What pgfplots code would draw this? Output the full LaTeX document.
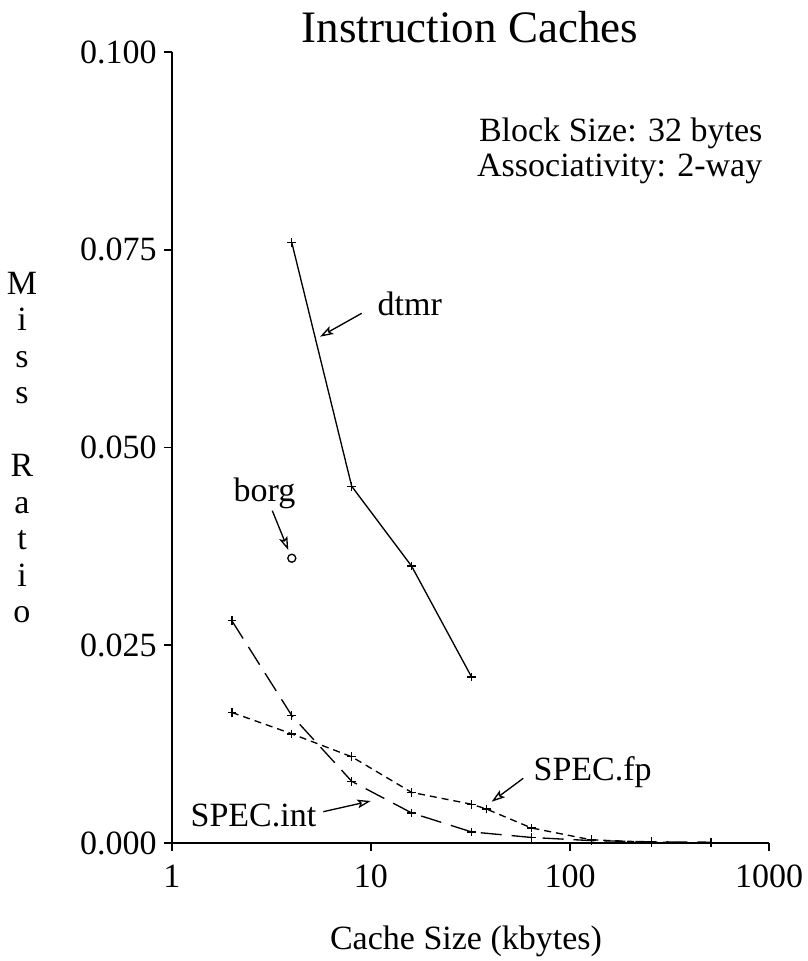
\documentclass[border=0pt]{standalone}
\usepackage{fontspec}
\setmainfont{Liberation Serif}
\usepackage{pgfplots}
\pgfplotsset{compat=1.18}
\usetikzlibrary{arrows.meta}

\pgfplotstableread{
x y
4 0.0759
8 0.0451
16 0.0350
32 0.0210
}\dtmr
\pgfplotstableread{
x y
4 0.0360
}\borg
\pgfplotstableread{
x y
2 0.0281
4 0.0161
8 0.0078
16 0.0038
32 0.0014
64 0.0007
128 0.0003
256 0.00015
512 0.0001
}\specint
\pgfplotstableread{
x y
2 0.0165
4 0.0138
8 0.0109
16 0.0064
32 0.0049
38 0.0043
64 0.0019
128 0.0004
256 0.0001
512 0.0000
}\specfp

\begin{document}
\begin{tikzpicture}[font=\fontsize{10.2}{12}\selectfont]
\begin{axis}[
  at={(0,0)}, anchor=south west,
  scale only axis, width=179.1pt, height=237.3pt,
  xmode=log, xmin=1, xmax=1000, ymin=0, ymax=0.1,
  axis lines=left,
  axis line style={-, line width=0.6pt},
  xtick={1,10,100,1000}, xticklabels={1,10,100,1000},
  ytick={0,0.025,0.05,0.075,0.1},
  yticklabels={0.000,0.025,0.050,0.075,0.100},
  xminorticks=false, yminorticks=false,
  tick align=outside, major tick length=2.4pt,
  tick style={black, line width=0.5pt},
  yticklabel style={anchor=east, inner sep=0pt, xshift=-2pt},
  xticklabel style={anchor=north, inner sep=0pt, yshift=-4pt},
  clip=false,
]
\addplot[black, line width=0.4pt, mark=+, mark size=1.3pt] table[x=x,y=y] {\dtmr};
\addplot[black, only marks, mark=o, mark size=1.2pt, mark options={line width=0.4pt}] table[x=x,y=y] {\borg};
\addplot[black, line width=0.4pt, dash pattern=on 6.3pt off 3pt, mark=+, mark size=1.3pt, mark options={solid}] table[x=x,y=y] {\specint};
\addplot[black, line width=0.4pt, dash pattern=on 2.1pt off 1.5pt, mark=+, mark size=1.3pt, mark options={solid}] table[x=x,y=y] {\specfp};
\end{axis}
\begin{scope}[x=0.3pt, y=-0.3pt, shift={(-51.6pt,252.9pt)}]
\path[use as bounding box] (0,0) rectangle (808,961);
\node[anchor=base, inner sep=0pt, font=\fontsize{13.5}{16}\selectfont] at (470,42) {Instruction Caches};
\node[anchor=base east, inner sep=0pt] at (763,141) {Block Size: 32 bytes};
\node[anchor=base east, inner sep=0pt] at (763,176) {Associativity: 2-way};
\node[anchor=base west, inner sep=0pt] at (377,315) {dtmr};
\node[anchor=base west, inner sep=0pt] at (233,502) {borg};
\node[anchor=base west, inner sep=0pt] at (190,827) {SPEC.int};
\node[anchor=base west, inner sep=0pt] at (533,780) {SPEC.fp};
\node[anchor=base, inner sep=0pt] at (466,950) {Cache Size (kbytes)};
\foreach \c [count=\i from 0] in {M,i,s,s,{},R,a,t,i,o}
  \node[anchor=base, inner sep=0pt] at ({22},{294+36.5*\i}) {\c};
\begin{scope}[line width=0.4pt, -{Stealth[open, length=4pt, width=2.6pt, inset=0.8pt]}]
\draw (361.7,313.3) -- (320,336.7);
\draw (272.3,510.7) -- (288.3,550);
\draw (323.3,811.7) -- (370.7,801);
\draw (523.3,778.3) -- (491.7,801.7);
\end{scope}
\end{scope}
\end{tikzpicture}
\end{document}
